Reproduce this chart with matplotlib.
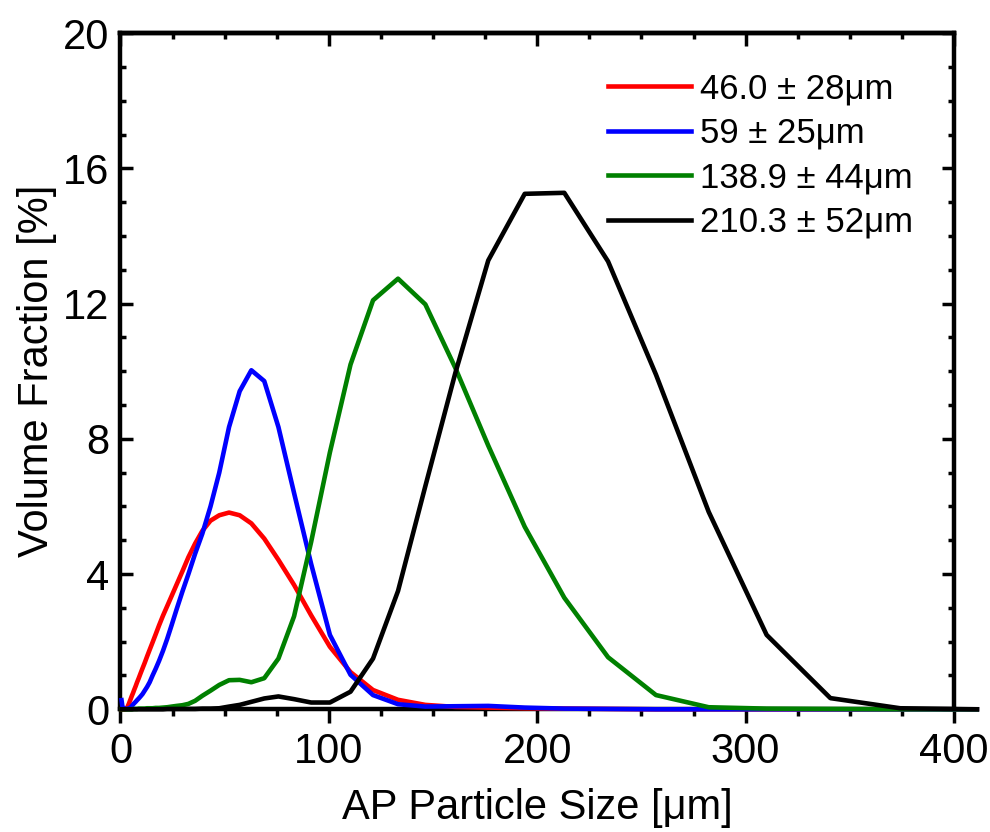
import matplotlib
matplotlib.use("Agg")
import matplotlib.pyplot as plt
from matplotlib.ticker import MultipleLocator

plt.rcParams['font.family'] = ['Liberation Sans', 'DejaVu Sans']

# particle size bins [um]
size = [0.5, 1.0, 2.0, 3.0, 4.0, 4.98, 5.47, 6.01, 6.61, 7.26, 7.97, 8.76, 9.62,
        10.57, 11.6, 12.75, 14.0, 15.4, 16.9, 18.5, 20.4, 22.4, 24.6, 27.0, 29.7,
        32.6, 35.8, 39.3, 43.2, 47.4, 52.1, 57.2, 62.8, 69.0, 75.8, 83.3, 91.5,
        100.5, 110.4, 121.2, 133.2, 146.3, 160.7, 176.5, 194.0, 213.0, 234.0,
        257.0, 282.3, 310.1, 340.7, 374.2, 411.0]

red = [0.0, 0.0, 0.0, 0.02, 0.16, 0.32, 0.40, 0.48, 0.58, 0.68, 0.80, 0.92, 1.06,
       1.21, 1.37, 1.56, 1.76, 1.98, 2.22, 2.48, 2.77, 3.05, 3.36, 3.70, 4.08,
       4.50, 4.90, 5.28, 5.58, 5.74, 5.82, 5.74, 5.50, 5.05, 4.42, 3.68, 2.78,
       1.85, 1.10, 0.57, 0.28, 0.13, 0.07, 0.05, 0.03, 0.02, 0.01,
       0.0, 0.0, 0.0, 0.0, 0.0, 0.0]

blue = [0.27, 0.05, 0.02, 0.01, 0.03, 0.06, 0.10, 0.14, 0.18, 0.22, 0.27, 0.32, 0.38,
        0.45, 0.55, 0.66, 0.80, 1.00, 1.20, 1.43, 1.73, 2.08, 2.50, 2.97, 3.48,
        4.00, 4.60, 5.20, 6.00, 7.00, 8.35, 9.41, 10.03, 9.71, 8.35, 6.40, 4.30,
        2.20, 1.02, 0.42, 0.15, 0.08, 0.09, 0.10, 0.05, 0.02, 0.01,
        0.0, 0.0, 0.0, 0.0, 0.0, 0.0]

green = [0.0, 0.0, 0.0, 0.0, 0.0, 0.0, 0.0, 0.01, 0.01, 0.01, 0.01, 0.02, 0.02,
         0.02, 0.02, 0.03, 0.03, 0.03, 0.04, 0.04, 0.05, 0.06, 0.08, 0.10, 0.12,
         0.16, 0.25, 0.40, 0.55, 0.72, 0.86, 0.87, 0.80, 0.92, 1.50, 2.75, 4.95,
         7.60, 10.20, 12.10, 12.74, 11.98, 10.10, 7.80, 5.40, 3.30, 1.54,
         0.42, 0.06, 0.02, 0.01, 0.0, 0.0]

black = [0.0, 0.0, 0.0, 0.0, 0.0, 0.0, 0.0, 0.0, 0.0, 0.0, 0.0, 0.0, 0.0,
         0.0, 0.0, 0.0, 0.0, 0.0, 0.0, 0.0, 0.0, 0.01, 0.01, 0.01, 0.01,
         0.01, 0.01, 0.02, 0.02, 0.03, 0.08, 0.13, 0.22, 0.32, 0.38, 0.30, 0.20,
         0.20, 0.52, 1.50, 3.50, 6.60, 9.95, 13.28, 15.25, 15.28, 13.25,
         9.90, 5.84, 2.20, 0.33, 0.03, 0.0]

labels = ["46.0 \u00b1 28\u03bcm", "59 \u00b1 25\u03bcm", "138.9 \u00b1 44\u03bcm", "210.3 \u00b1 52\u03bcm"]
colors = ["#ff0000", "#0000ff", "#008000", "#000000"]
series = [red, blue, green, black]

fig = plt.figure(figsize=(9.9, 8.32), dpi=100)
ax = fig.add_axes([0.1217, 0.1475, 0.8419, 0.8125])

for ys, c, lab in zip(series, colors, labels):
    ax.plot(size, ys, color=c, lw=3.3, label=lab, clip_on=False, zorder=3)

ax.set_xlim(0, 400)
ax.set_ylim(0, 20)
ax.xaxis.set_major_locator(MultipleLocator(100))
ax.xaxis.set_minor_locator(MultipleLocator(25))
ax.yaxis.set_major_locator(MultipleLocator(4))
ax.yaxis.set_minor_locator(MultipleLocator(1))

for s in ax.spines.values():
    s.set_linewidth(3.2)

ax.tick_params(axis='x', which='both', direction='out', top=False, width=2.5, labelsize=30, pad=6)
ax.tick_params(axis='x', which='major', length=10)
ax.tick_params(axis='x', which='minor', length=5)
ax.tick_params(axis='y', which='both', direction='in', right=True, width=2.5, labelsize=30, pad=8)
ax.tick_params(axis='y', which='major', length=9)
ax.tick_params(axis='y', which='minor', length=4.5)

# top axis with inward ticks
secx = ax.secondary_xaxis('top')
secx.xaxis.set_major_locator(MultipleLocator(100))
secx.xaxis.set_minor_locator(MultipleLocator(25))
secx.tick_params(axis='x', which='both', direction='in', width=2.5, labeltop=False)
secx.tick_params(axis='x', which='major', length=9)
secx.tick_params(axis='x', which='minor', length=4.5)
secx.spines['top'].set_linewidth(3.2)

ax.set_xlabel("AP Particle Size [\u03bcm]", fontsize=30, labelpad=12)
ax.set_ylabel("Volume Fraction [%]", fontsize=30, labelpad=4)

leg = ax.legend(loc='upper left', bbox_to_anchor=(0.585, 0.942), frameon=False, fontsize=25,
                handlelength=2.4, handletextpad=0.25, labelspacing=0.33, borderaxespad=0,
                borderpad=0)

fig.savefig("out.png", dpi=100)
